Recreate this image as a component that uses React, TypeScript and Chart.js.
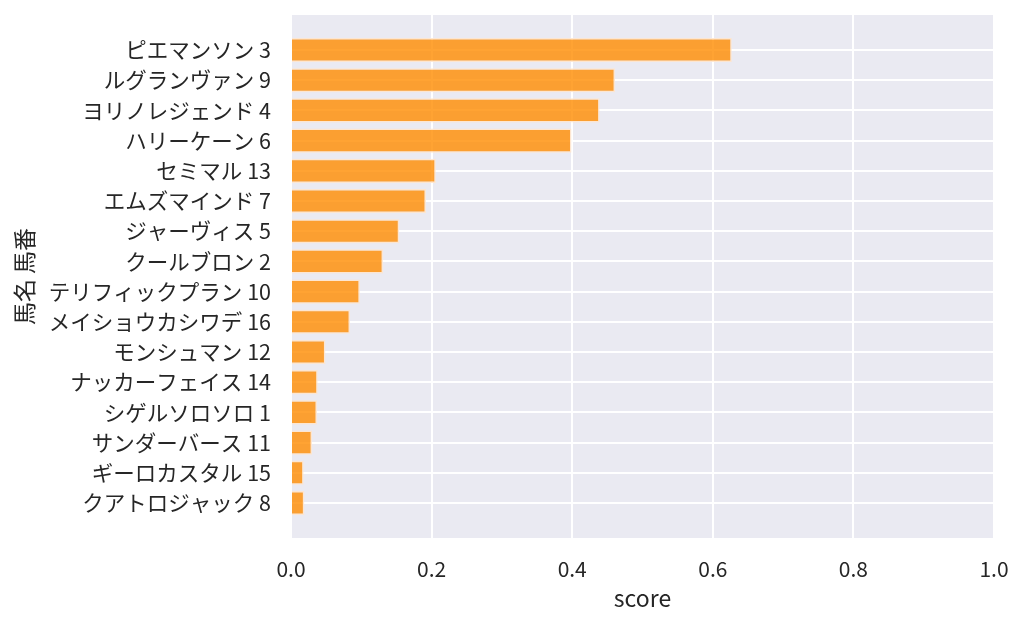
import { useEffect, useRef } from "react"
import { Chart, registerables } from "chart.js"

Chart.register(...registerables)

// horses, top to bottom
const horses = [
  "ピエマンソン 3",
  "ルグランヴァン 9",
  "ヨリノレジェンド 4",
  "ハリーケーン 6",
  "セミマル 13",
  "エムズマインド 7",
  "ジャーヴィス 5",
  "クールブロン 2",
  "テリフィックプラン 10",
  "メイショウカシワデ 16",
  "モンシュマン 12",
  "ナッカーフェイス 14",
  "シゲルソロソロ 1",
  "サンダーバース 11",
  "ギーロカスタル 15",
  "クアトロジャック 8",
]
const scores = [
  0.627, 0.461, 0.439, 0.399, 0.206, 0.192, 0.154, 0.131,
  0.098, 0.084, 0.049, 0.038, 0.037, 0.030, 0.018, 0.019,
]
const xTicks = [0, 0.2, 0.4, 0.6, 0.8, 1.0]

const FONT = "'Noto Sans CJK JP', 'Noto Sans', sans-serif"
const TEXT = "#262626"

const plotBackground = {
  id: "plotBackground",
  beforeDraw(chart: Chart) {
    const { ctx, chartArea } = chart
    ctx.save()
    ctx.fillStyle = "#eaeaf2"
    ctx.fillRect(chartArea.left, chartArea.top, chartArea.right - chartArea.left, chartArea.bottom - chartArea.top)
    ctx.restore()
  },
}

export default function App() {
  const chartRef = useRef<HTMLCanvasElement>(null)
  const chartInstance = useRef<Chart | null>(null)

  useEffect(() => {
    document.body.style.margin = "0"
    if (!chartRef.current) return
    if (chartInstance.current) chartInstance.current.destroy()
    const ctx = chartRef.current.getContext("2d")
    if (!ctx) return

    chartInstance.current = new Chart(ctx, {
      type: "bar",
      data: {
        datasets: [
          {
            label: "score",
            data: scores.map((v, i) => ({ x: v, y: i })),
            backgroundColor: "rgba(255, 140, 0, 0.8)",
            borderColor: "rgba(255, 230, 205, 0.9)",
            borderWidth: 1.5,
            barPercentage: 0.8,
            categoryPercentage: 1,
          },
        ],
      },
      options: {
        indexAxis: "y",
        responsive: true,
        maintainAspectRatio: false,
        animation: false,
        layout: { padding: { top: 15, right: 30, left: 0, bottom: 0 } },
        plugins: {
          legend: { display: false },
          tooltip: { enabled: false },
        },
        scales: {
          x: {
            type: "linear",
            min: 0,
            max: 1,
            afterBuildTicks: (scale: any) => {
              scale.ticks = xTicks.map((v) => ({ value: v }))
            },
            afterFit: (scale: any) => {
              scale.height = 89
              scale.paddingLeft = 0
              scale.paddingRight = 0
            },
            grid: { color: "#ffffff", lineWidth: 2, drawTicks: false },
            border: { display: false },
            ticks: {
              color: TEXT,
              padding: 18,
              font: { family: FONT, size: 21 },
              callback: (v: any) => Number(v).toFixed(1),
            },
            title: {
              display: true,
              text: "score",
              color: TEXT,
              font: { family: FONT, size: 23 },
              padding: { top: 0, bottom: 15 },
            },
          },
          y: {
            type: "linear",
            reverse: true,
            offset: false,
            min: -1.16,
            max: horses.length - 1 + 1.16,
            afterBuildTicks: (scale: any) => {
              scale.ticks = horses.map((_, i) => ({ value: i }))
            },
            afterFit: (scale: any) => {
              scale.width = 291
              scale.paddingTop = 0
              scale.paddingBottom = 0
            },
            grid: { color: "#ffffff", lineWidth: 2, drawTicks: false, offset: false },
            border: { display: false },
            ticks: {
              color: TEXT,
              padding: 20,
              autoSkip: false,
              font: { family: FONT, size: 21.5 },
              callback: (v: any) => horses[Math.round(Number(v))] ?? "",
            },
            title: {
              display: true,
              text: "馬名 馬番",
              color: TEXT,
              font: { family: FONT, size: 23 },
              padding: { top: 10, bottom: 0 },
            },
          },
        },
      },
      plugins: [plotBackground],
    })

    return () => {
      if (chartInstance.current) {
        chartInstance.current.destroy()
        chartInstance.current = null
      }
    }
  }, [])

  return (
    <div style={{ position: "absolute", left: 0, top: 0, width: 1024, height: 627 }}>
      <canvas ref={chartRef} />
    </div>
  )
}
